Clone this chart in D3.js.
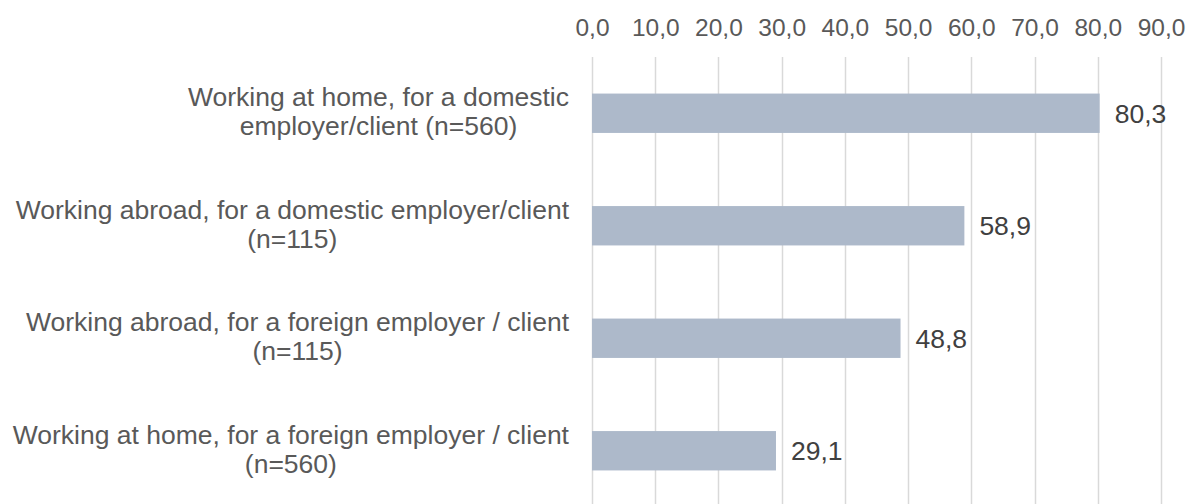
<!DOCTYPE html>
<html>
<head>
<meta charset="utf-8">
<script src="https://cdn.jsdelivr.net/npm/d3@7"></script>
<style>
  html, body { margin: 0; padding: 0; background: #fff; }
  svg { display: block; font-family: "Liberation Sans", Arial, sans-serif; }
</style>
</head>
<body>
<svg id="chart" width="1195" height="504"></svg>
<script>
// Survey groups (line breaks marked with \n) and their shares
const categories = [
  "Working at home, for a domestic\nemployer/client (n=560)",
  "Working abroad, for a domestic employer/client\n(n=115)",
  "Working abroad, for a foreign employer / client\n(n=115)",
  "Working at home, for a foreign employer / client\n(n=560)"
];
const values = [80.3, 58.9, 48.8, 29.1];
const tickValues = [0, 10, 20, 30, 40, 50, 60, 70, 80, 90];

const fmt = v => v.toFixed(1).replace(".", ",");

const svg = d3.select("#chart");
const margin = { left: 592, right: 34, top: 57, bottom: -3 };
const W = 1195, H = 504;

const x = d3.scaleLinear()
  .domain([0, 90])
  .range([margin.left, W - margin.right]);

const y = d3.scaleBand()
  .domain(categories)
  .range([margin.top, H - margin.bottom])
  .paddingInner(0.65)
  .paddingOuter(0.325);

// vertical gridlines
svg.append("g")
  .selectAll("line")
  .data(tickValues)
  .join("line")
  .attr("x1", d => Math.round(x(d)) + 0.5)
  .attr("x2", d => Math.round(x(d)) + 0.5)
  .attr("y1", margin.top)
  .attr("y2", H)
  .attr("stroke", "#d9d9d9")
  .attr("stroke-width", 1.5);

// top axis labels
const axis = d3.axisTop(x).tickValues(tickValues).tickFormat(fmt).tickSize(0).tickPadding(0);
const gAxis = svg.append("g")
  .attr("transform", "translate(0,36)")
  .call(axis);
gAxis.select(".domain").remove();
gAxis.selectAll("text")
  .attr("fill", "#595959")
  .attr("font-size", 24.5)
  .attr("font-family", "Liberation Sans, Arial, sans-serif")
  .attr("dy", 0);

// bars
svg.append("g")
  .selectAll("rect")
  .data(values)
  .join("rect")
  .attr("x", x(0))
  .attr("y", (d, i) => y(categories[i]))
  .attr("width", d => x(d) - x(0))
  .attr("height", y.bandwidth())
  .attr("fill", "#adb9ca");

// value labels
svg.append("g")
  .selectAll("text")
  .data(values)
  .join("text")
  .attr("x", d => x(d) + 15)
  .attr("y", (d, i) => y(categories[i]) + y.bandwidth() / 2)
  .attr("dy", "0.36em")
  .attr("font-size", 26.5)
  .attr("fill", "#404040")
  .text(fmt);

// category labels, centred block ending left of the axis
const labelRight = 569;
const lineH = 29;
const gCat = svg.append("g");
categories.forEach((c, i) => {
  const lines = c.split("\n");
  const t = gCat.append("text")
    .attr("font-size", 26.5)
    .attr("fill", "#595959")
    .attr("text-anchor", "middle");
  const cy = y(c) + y.bandwidth() / 2;
  const first = cy - (lines.length - 1) * lineH / 2;
  const spans = lines.map((l, k) =>
    t.append("tspan").attr("y", first + k * lineH).attr("dy", "0.29em").text(l));
  const maxW = d3.max(spans, s => s.node().getComputedTextLength());
  spans.forEach(s => s.attr("x", labelRight - maxW / 2));
});
</script>
</body>
</html>
